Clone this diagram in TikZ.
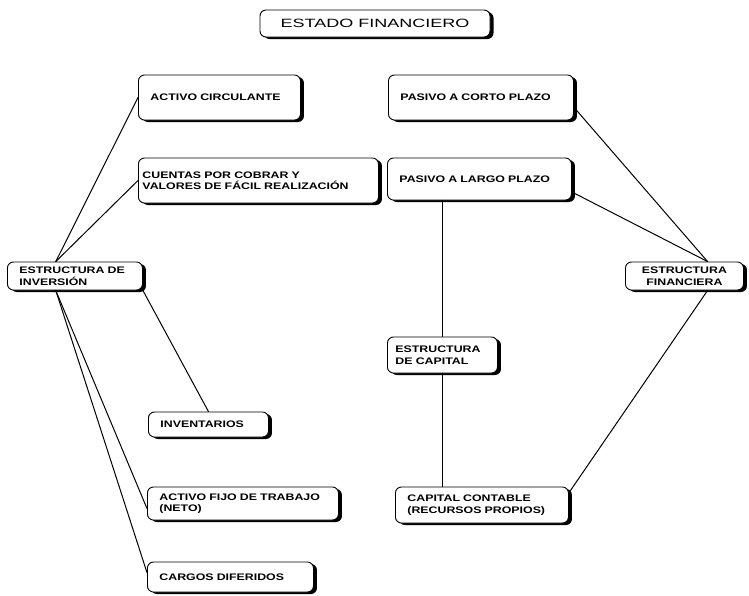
\documentclass[tikz,border=0pt]{standalone}
\usepackage{fontspec}
\setmainfont{Liberation Sans}
\usetikzlibrary{shadows}

\newcommand{\letraCaja}{\fontsize{9.5}{11.5}\selectfont\bfseries\addfontfeature{FakeStretch=1.3}}
\newcommand{\letraTitulo}{\fontsize{12}{14}\selectfont\addfontfeature{FakeStretch=1.5}}

\begin{document}
\begin{tikzpicture}[x=1pt, y=-1pt,
    caja/.style={draw, line width=0.9pt, rounded corners=6pt, fill=white, anchor=west,
        inner xsep=12pt, inner ysep=2pt, align=left, font=\letraCaja,
        drop shadow={shadow xshift=3.5pt, shadow yshift=-2pt, fill=black, opacity=1}},
    liga/.style={line width=1pt, line cap=round}]

    \useasboundingbox (0,0) rectangle (749,595);

    %titulo
    \node[caja, anchor=center, align=center, font=\letraTitulo, inner sep=0pt,
        minimum width=230pt, minimum height=27pt] (edo) at (375,23.5) {ESTADO FINANCIERO};

    %inversion
    \node[caja, text width=138pt, minimum height=45pt] (circ) at (138,97.5) {ACTIVO CIRCULANTE};
    \node[caja, inner xsep=4pt, text width=232pt, minimum height=45pt] (cuen) at (138,180.5)
        {CUENTAS POR COBRAR Y\\VALORES DE FÁCIL REALIZACIÓN};
    \node[caja, text width=111pt, minimum height=28pt] (inv) at (7,276) {ESTRUCTURA DE\\INVERSIÓN};
    \node[caja, text width=96pt, minimum height=25pt] (invent) at (148,424.5) {INVENTARIOS};
    \node[caja, text width=167pt, minimum height=33pt] (fijo) at (147,503.5) {ACTIVO FIJO DE TRABAJO\\(NETO)};
    \node[caja, text width=142pt, minimum height=30pt] (carg) at (147,577) {CARGOS DIFERIDOS};

    %financiamiento
    \node[caja, text width=161pt, minimum height=45pt] (corto) at (388,97.5) {PASIVO A CORTO PLAZO};
    \node[caja, text width=160pt, minimum height=42pt] (largo) at (387,179) {PASIVO A LARGO PLAZO};
    \node[caja, inner xsep=8pt, text width=102pt, align=center, minimum height=28pt] (fin) at (625,276)
        {ESTRUCTURA\\FINANCIERA};
    \node[caja, inner xsep=8pt, text width=94pt, minimum height=36pt] (cap) at (387,355) {ESTRUCTURA\\DE CAPITAL};
    \node[caja, text width=149pt, minimum height=36pt] (cont) at (395,505) {CAPITAL CONTABLE\\(RECURSOS PROPIOS)};

    %lineas
    \foreach \desde/\hasta in {inv.143/circ.west, inv.143/cuen.west, inv.217/fijo.183,
        inv.217/carg.177, inv.south east/invent.north, corto.-6/fin.32, largo.-8/fin.32,
        fin.-32/cont.8} {
        \draw[liga] (\desde) -- (\hasta);
    }
    \draw[liga] (cap.north) -- (cap.north |- largo.south);
    \draw[liga] (cap.south) -- (cap.south |- cont.north);
\end{tikzpicture}
\end{document}
